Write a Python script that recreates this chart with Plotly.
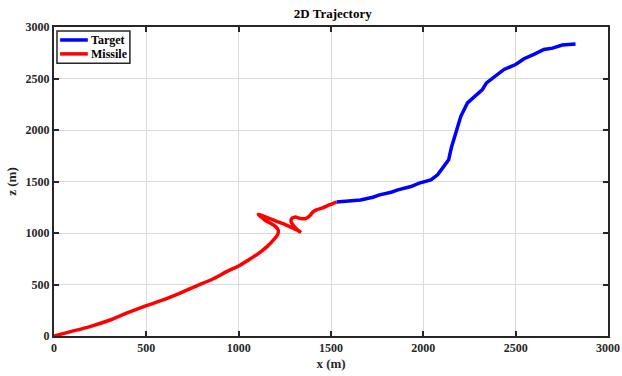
import plotly.graph_objects as go

# Target path (x, z) in metres
target_x = [1530, 1600, 1660, 1727, 1763, 1826, 1862, 1933, 1978, 2041, 2077, 2100,
            2137, 2152, 2167, 2185, 2203, 2239, 2280, 2320, 2342, 2390, 2437, 2500,
            2545, 2599, 2653, 2700, 2752, 2824]
target_z = [1300, 1308, 1320, 1347, 1370, 1396, 1419, 1451, 1484, 1516, 1565, 1620,
            1711, 1830, 1922, 2030, 2133, 2263, 2330, 2393, 2458, 2520, 2588, 2636,
            2692, 2734, 2782, 2795, 2825, 2834]

# Missile path (x, z) in metres
missile_x = [0, 80, 190, 300, 400, 500, 590, 680, 770, 860, 940, 1000, 1055, 1110,
             1155, 1190, 1212, 1214, 1200, 1175, 1145, 1118, 1106, 1115, 1145, 1190,
             1240, 1291, 1328, 1338, 1320, 1295, 1283, 1290, 1308, 1335, 1365, 1385,
             1400, 1420, 1455, 1490, 1530]
missile_z = [0, 38, 89, 153, 227, 295, 350, 415, 485, 553, 630, 680, 740, 805,
             870, 935, 990, 1030, 1062, 1092, 1122, 1160, 1180, 1178, 1156, 1125,
             1090, 1050, 1018, 1005, 1028, 1075, 1120, 1145, 1156, 1140, 1142, 1168,
             1200, 1224, 1245, 1272, 1300]

x_ticks = [0, 500, 1000, 1500, 2000, 2500, 3000]
z_ticks = [0, 500, 1000, 1500, 2000, 2500, 3000]

series_names = ["Target", "Missile"]
series_colors = ["#0000ff", "#ff0000"]

serif = "Liberation Serif"
dark = "#262626"

fig = go.Figure()
fig.add_trace(go.Scatter(x=target_x, y=target_z, mode="lines", name=series_names[0],
                         line=dict(color=series_colors[0], width=3.5)))
fig.add_trace(go.Scatter(x=missile_x, y=missile_z, mode="lines", name=series_names[1],
                         line=dict(color=series_colors[1], width=3.5,
                                   shape="spline", smoothing=0.5)))

axis_common = dict(
    showgrid=True, gridcolor="#dadada", gridwidth=1,
    showline=True, linecolor=dark, linewidth=2, mirror="ticks",
    ticks="inside", ticklen=5, tickwidth=2, tickcolor=dark,
    zeroline=False, automargin=False, ticklabeloverflow="allow",
    tickfont=dict(family=serif, size=12, color=dark, weight="bold"),
)

# Compact boxed legend in the upper-left corner of the axes
shapes = [dict(type="rect", xref="paper", yref="paper", x0=0.0054, x1=0.137,
               y0=0.883, y1=0.987, fillcolor="white",
               line=dict(color=dark, width=1.5), layer="above")]
annotations = []
for i, (name, color) in enumerate(zip(series_names, series_colors)):
    yy = 0.958 - i * 0.045
    shapes.append(dict(type="line", xref="paper", yref="paper", x0=0.011, x1=0.061,
                       y0=yy, y1=yy, line=dict(color=color, width=3.5), layer="above"))
    annotations.append(dict(text=name, xref="paper", yref="paper", x=0.064, y=yy,
                            xanchor="left", yanchor="middle", showarrow=False,
                            font=dict(family=serif, size=12, color="#000000",
                                      weight="bold")))

fig.update_layout(
    width=622, height=376,
    margin=dict(l=54, r=14, t=27, b=40),
    paper_bgcolor="white", plot_bgcolor="white",
    title=dict(text="2D Trajectory", x=0.535, xanchor="center", y=0.965, yanchor="middle",
               font=dict(family=serif, size=13, color="#000000", weight="bold")),
    xaxis=dict(range=[0, 3000], tickvals=x_ticks,
               title=dict(text="x (m)", standoff=4,
                          font=dict(family=serif, size=13, color=dark, weight="bold")),
               **axis_common),
    yaxis=dict(range=[0, 3000], tickvals=z_ticks,
               title=dict(text="z (m)", standoff=6,
                          font=dict(family=serif, size=13, color=dark, weight="bold")),
               **axis_common),
    shapes=shapes,
    annotations=annotations,
    showlegend=False,
)

fig.write_html("out.html")
